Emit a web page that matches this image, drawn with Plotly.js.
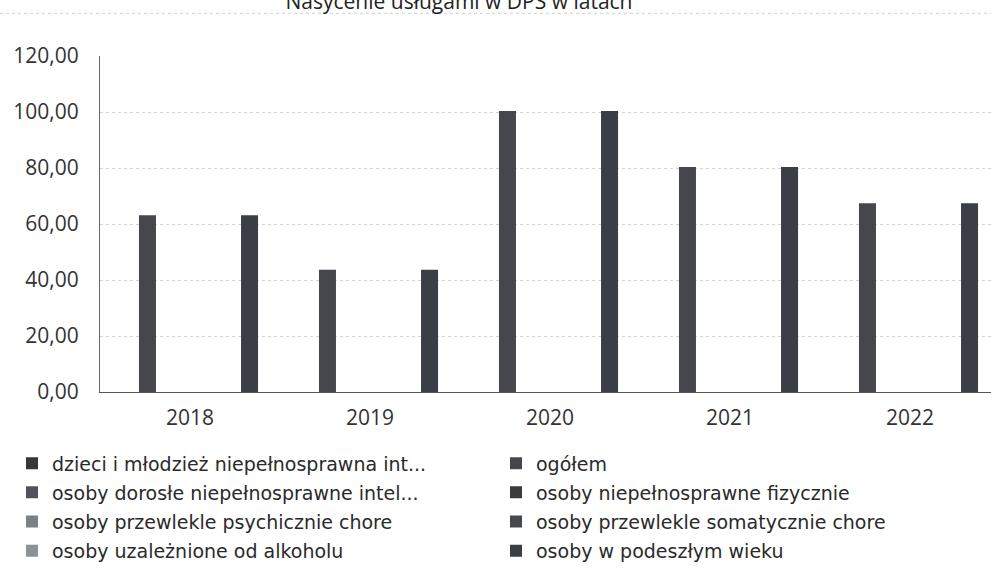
<!DOCTYPE html>
<html>
<head>
<meta charset="utf-8">
<script src="https://cdn.plot.ly/plotly-3.0.1.min.js"></script>
<style>html,body{margin:0;padding:0;background:#fff;overflow:hidden;}#chart{width:991px;height:571px;}</style>
</head>
<body>
<div id="chart"></div>
<script>
const years = ['2018', '2019', '2020', '2021', '2022'];
const seriesNames = [
  'dzieci i młodzież niepełnosprawna int...',
  'ogółem',
  'osoby dorosłe niepełnosprawne intel...',
  'osoby niepełnosprawne fizycznie',
  'osoby przewlekle psychicznie chore',
  'osoby przewlekle somatycznie chore',
  'osoby uzależnione od alkoholu',
  'osoby w podeszłym wieku'
];
const dzieci = [0, 0, 0, 0, 0];
const ogolem = [63.1, 43.7, 100.4, 80.4, 67.4];
const dorosle = [0, 0, 0, 0, 0];
const fizycznie = [0, 0, 0, 0, 0];
const psychicznie = [0, 0, 0, 0, 0];
const somatycznie = [0, 0, 0, 0, 0];
const uzaleznione = [0, 0, 0, 0, 0];
const podeszly = [63.1, 43.7, 100.4, 80.4, 67.4];
const seriesValues = [dzieci, ogolem, dorosle, fizycznie, psychicznie, somatycznie, uzaleznione, podeszly];
const seriesColors = ['#34373c', '#45474c', '#50545a', '#393b3f', '#7d8186', '#47494d', '#8e9196', '#3c3e45'];
const legendOf = ['legend', 'legend2', 'legend', 'legend2', 'legend', 'legend2', 'legend', 'legend2'];

const traces = seriesNames.map((name, i) => ({
  type: 'bar',
  name: name,
  x: years,
  y: seriesValues[i],
  marker: {color: seriesColors[i]},
  legend: legendOf[i],
  legendgroup: 'g' + i,
  hoverinfo: 'none'
}));

const plotL = 100, plotT = 55.7, plotB = 391.7, W = 991, H = 571;
const plotW = W - plotL, plotH = plotB - plotT;
const px2x = p => (p - plotL) / plotW;
const px2y = p => (plotB - p) / plotH;

const legendFont = {family: 'DejaVu Sans', size: 19, color: '#2a2a2a'};

const layout = {
  width: W, height: H,
  margin: {l: plotL, r: 0, t: plotT, b: H - plotB, pad: 0},
  paper_bgcolor: '#fff', plot_bgcolor: '#fff',
  separators: ', ',
  barmode: 'group', bargap: 0.244, bargroupgap: 0,
  title: {
    text: 'Nasycenie usługami w DPS w latach',
    font: {family: 'Open Sans', size: 21, color: '#222'},
    x: 459 / W, xanchor: 'center',
    xref: 'container', yref: 'container',
    y: 1 - 2 / H, yanchor: 'middle'
  },
  xaxis: {
    type: 'category',
    range: [-0.5, -0.5 + plotW / 180],
    showgrid: false, zeroline: false,
    showline: true, linecolor: '#555', linewidth: 1,
    ticks: '', ticklabelstandoff: 7,
    tickfont: {family: 'Open Sans', size: 21, color: '#333'}
  },
  yaxis: {
    range: [0, 120], dtick: 20, tick0: 0,
    tickformat: '.2f',
    showgrid: true, gridcolor: '#d4d4d4', gridwidth: 1, griddash: 'dot',
    zeroline: false,
    showline: true, linecolor: '#666', linewidth: 1,
    ticks: '', ticklabelstandoff: 16,
    tickfont: {family: 'Open Sans', size: 21, color: '#333'}
  },
  shapes: [
    {type: 'line', xref: 'paper', yref: 'paper',
     x0: px2x(0), x1: 1, y0: px2y(13), y1: px2y(13),
     line: {color: '#cfcfcf', width: 1, dash: 'dot'}}
  ],
  showlegend: true,
  legend: {
    x: px2x(12), xanchor: 'left', y: px2y(444), yanchor: 'top',
    orientation: 'v', traceorder: 'grouped', tracegroupgap: 1.5,
    font: legendFont, bgcolor: 'rgba(0,0,0,0)', borderwidth: 0
  },
  legend2: {
    x: px2x(496), xanchor: 'left', y: px2y(444), yanchor: 'top',
    orientation: 'v', traceorder: 'grouped', tracegroupgap: 1.5,
    font: legendFont, bgcolor: 'rgba(0,0,0,0)', borderwidth: 0
  }
};

Plotly.newPlot('chart', traces, layout, {displayModeBar: false, staticPlot: true});
</script>
</body>
</html>
